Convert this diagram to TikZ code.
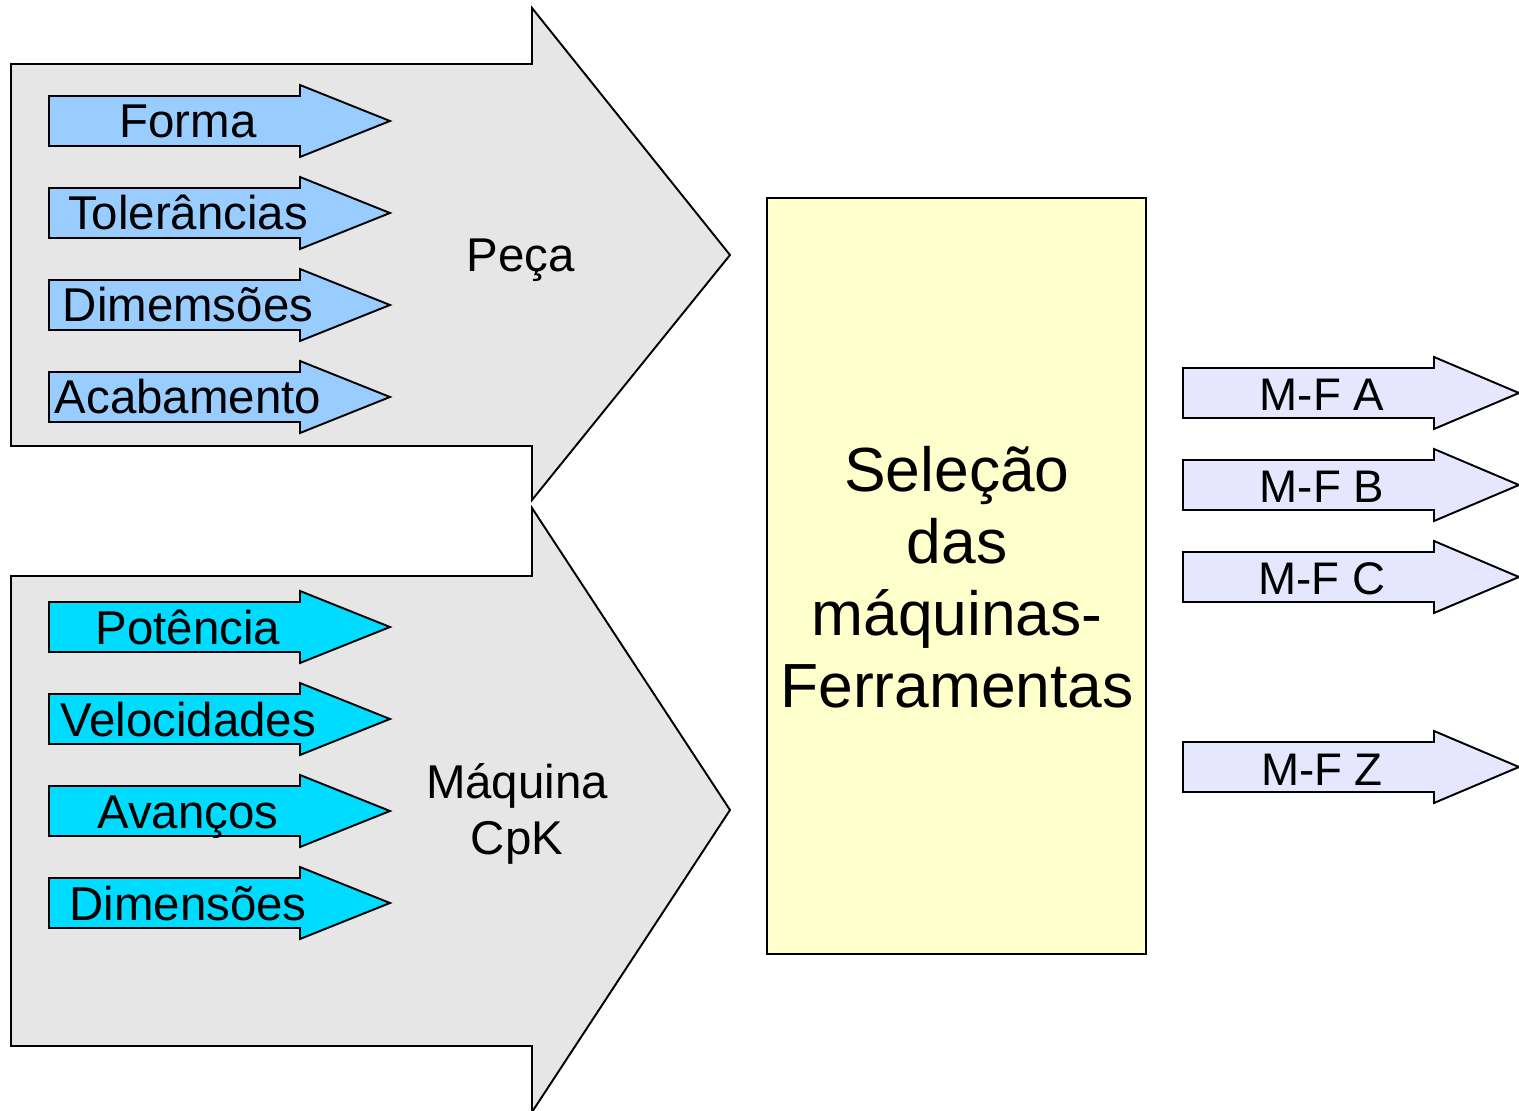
\documentclass[tikz,border=0pt]{standalone}
\usepackage{fontspec}
\setmainfont{Liberation Sans}
\usetikzlibrary{positioning}

\definecolor{biggray}{HTML}{E6E6E6}
\definecolor{pecablue}{HTML}{99CCFF}
\definecolor{maqcyan}{HTML}{00DCFF}
\definecolor{selyellow}{HTML}{FFFFCC}
\definecolor{mflilac}{HTML}{E6E6FF}

\begin{document}
\begin{tikzpicture}[x=0.02cm,y=-0.02cm]
\tikzset{
  bigarrow/.style={draw,line width=1.1pt,fill=biggray,line join=miter},
  inarrow/.style={draw,line width=1.1pt,line join=miter},
  armtext/.style={anchor=base,inner sep=0pt,font=\fontsize{27pt}{32pt}\selectfont},
  mftext/.style={anchor=base,inner sep=0pt,font=\fontsize{26pt}{31pt}\selectfont},
  seltext/.style={align=center,inner sep=0pt,font=\fontsize{35.5pt}{41pt}\selectfont},
  selbox/.style={draw,line width=1.1pt,fill=selyellow,minimum width=379*0.02cm,minimum height=756*0.02cm,inner sep=0pt}
}
\useasboundingbox (0,0) rectangle (1519,1111);
% big arrows
\draw[bigarrow] (11,64) -- (532,64) -- (532,8) -- (730,255) -- (532,500) -- (532,446) -- (11,446) -- cycle;
\draw[bigarrow] (11,576) -- (532,576) -- (532,508) -- (730,810) -- (532,1112) -- (532,1046) -- (11,1046) -- cycle;
\node[armtext] (n_peca) at (521,272) {Peça};
\node[armtext,align=center,anchor=north] (n_maq) at (517,763) {Máquina\\CpK};
% part inputs
\draw[inarrow,fill=pecablue] (49,96) -- (300,96) -- (300,85) -- (390,121) -- (300,157) -- (300,146) -- (49,146) -- cycle;
\draw[inarrow,fill=pecablue] (49,188) -- (300,188) -- (300,177) -- (390,213) -- (300,249) -- (300,238) -- (49,238) -- cycle;
\draw[inarrow,fill=pecablue] (49,280) -- (300,280) -- (300,269) -- (390,305) -- (300,341) -- (300,330) -- (49,330) -- cycle;
\draw[inarrow,fill=pecablue] (49,372) -- (300,372) -- (300,361) -- (390,397) -- (300,433) -- (300,422) -- (49,422) -- cycle;
\node[armtext] (n_forma) at (188,138) {Forma};
\node[armtext] (n_toler) at (188,230) {Tolerâncias};
\node[armtext] (n_dimem) at (188,322) {Dimemsões};
\node[armtext] (n_acab) at (188,414) {Acabamento};
% machine inputs
\draw[inarrow,fill=maqcyan] (49,602) -- (300,602) -- (300,591) -- (390,627) -- (300,663) -- (300,652) -- (49,652) -- cycle;
\draw[inarrow,fill=maqcyan] (49,694) -- (300,694) -- (300,683) -- (390,719) -- (300,755) -- (300,744) -- (49,744) -- cycle;
\draw[inarrow,fill=maqcyan] (49,786) -- (300,786) -- (300,775) -- (390,811) -- (300,847) -- (300,836) -- (49,836) -- cycle;
\draw[inarrow,fill=maqcyan] (49,878) -- (300,878) -- (300,867) -- (390,903) -- (300,939) -- (300,928) -- (49,928) -- cycle;
\node[armtext] (n_pot) at (188,644) {Potência};
\node[armtext] (n_vel) at (188,736) {Velocidades};
\node[armtext] (n_av) at (188,828) {Avanços};
\node[armtext] (n_dimen) at (188,920) {Dimensões};
% selection box
\node[selbox] (n_sel) at (956.5,576) {};
\node[seltext] (n_seltxt) at (957,577) {Seleção\\das\\máquinas-\\Ferramentas};
% outputs
\draw[inarrow,fill=mflilac] (1183,368) -- (1434,368) -- (1434,357) -- (1519,393) -- (1434,429) -- (1434,418) -- (1183,418) -- cycle;
\draw[inarrow,fill=mflilac] (1183,460) -- (1434,460) -- (1434,449) -- (1519,485) -- (1434,521) -- (1434,510) -- (1183,510) -- cycle;
\draw[inarrow,fill=mflilac] (1183,552) -- (1434,552) -- (1434,541) -- (1519,577) -- (1434,613) -- (1434,602) -- (1183,602) -- cycle;
\draw[inarrow,fill=mflilac] (1183,742) -- (1434,742) -- (1434,731) -- (1519,767) -- (1434,803) -- (1434,792) -- (1183,792) -- cycle;
\node[mftext] (n_mfa) at (1322,411) {M-F A};
\node[mftext] (n_mfb) at (1322,503) {M-F B};
\node[mftext] (n_mfc) at (1322,595) {M-F C};
\node[mftext] (n_mfz) at (1322,785) {M-F Z};
\end{tikzpicture}
\end{document}
